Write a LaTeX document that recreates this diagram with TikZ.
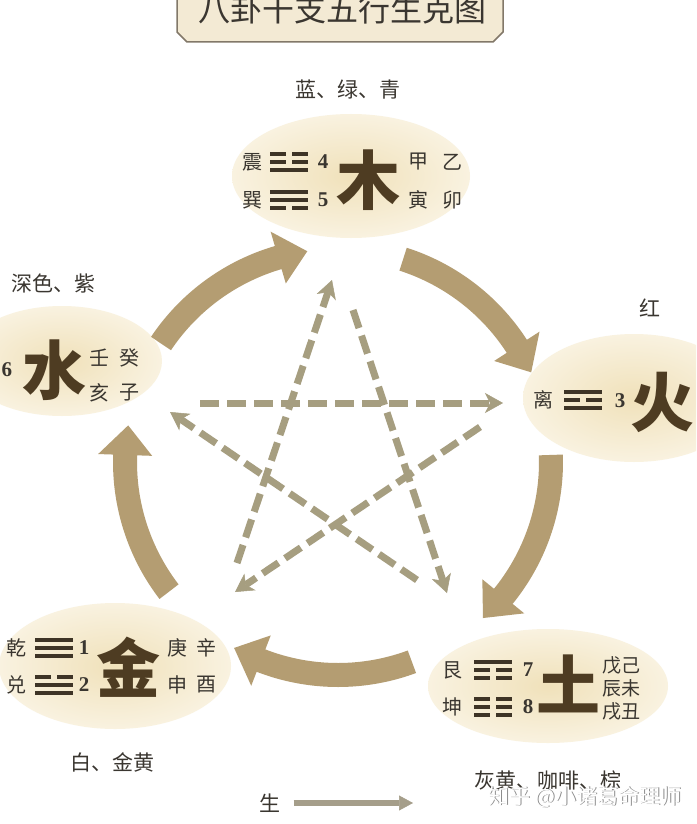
\documentclass[tikz,border=0pt]{standalone}
\usepackage{fontspec}
\setmainfont{Liberation Serif}
\newfontfamily\cjk{Noto Sans CJK SC}
\usetikzlibrary{arrows.meta,shapes.geometric}
\definecolor{arrowc}{RGB}{180,157,114}
\definecolor{starc}{RGB}{166,158,128}
\definecolor{ellin}{RGB}{240,225,186}
\definecolor{ellout}{RGB}{249,242,224}
\definecolor{txt}{RGB}{58,54,48}
\definecolor{bigc}{RGB}{78,60,34}
\definecolor{trigc}{RGB}{62,52,38}
\definecolor{titlefill}{RGB}{243,234,212}
\definecolor{titledraw}{RGB}{130,120,105}
\definecolor{legc}{RGB}{165,158,138}
\newcommand{\trig}[3]{%
  \foreach \bb [count=\ii] in {#3} {%
    \pgfmathsetmacro{\yy}{#2+(\ii-2)*8}%
    \ifnum\bb=1
      \fill[trigc] (#1-19,\yy-2.3) rectangle (#1+19,\yy+2.3);
    \else
      \fill[trigc] (#1-19,\yy-2.3) rectangle (#1-3,\yy+2.3);
      \fill[trigc] (#1+3,\yy-2.3) rectangle (#1+19,\yy+2.3);
    \fi
  }%
}
\begin{document}
\begin{tikzpicture}[x=1pt,y=-1pt,
  ell/.style={ellipse, shade, inner color=ellin, outer color=ellout, inner sep=0pt},
  sm/.style={font=\cjk\fontsize{20}{20}\selectfont, text=txt, inner sep=0pt},
  smt/.style={font=\cjk\fontsize{19}{19}\selectfont, text=txt, inner sep=0pt},
  num/.style={font=\fontsize{21}{21}\selectfont\bfseries, text=txt, inner sep=0pt},
  big/.style={font=\cjk\bfseries\fontsize{64}{64}\selectfont, text=bigc, inner sep=0pt},
  colorlbl/.style={font=\cjk\fontsize{21}{21}\selectfont, text=txt, inner sep=0pt},
  kearrow/.style={starc, line width=7pt, dash pattern=on 19pt off 8pt,
    -{Stealth[length=18pt,width=20pt,inset=5pt,line width=0.5pt]}},
  legarrow/.style={legc, line width=6pt, -{Triangle[length=14pt,width=15pt,line width=0.5pt]}},
]
\useasboundingbox (0,0) rectangle (696,824);
\clip (0,0) rectangle (696,824);
\fill[white] (0,0) rectangle (696,824);

% title
\draw[titledraw, fill=titlefill, line width=1.5pt]
  (177,-10) -- (177,32) -- (187,42) -- (493,42) -- (503,32) -- (503,-10) -- cycle;
\node[font=\cjk\fontsize{32}{32}\selectfont, text=txt, inner sep=0pt] (title) at (342,9) {八卦干支五行生克图};

% ellipses
\node[ell, minimum width=238pt, minimum height=124pt] (mu) at (351,176) {};
\node[ell, minimum width=200pt, minimum height=110pt] (shui) at (62,361) {};
\node[ell, minimum width=222pt, minimum height=128pt] (huo) at (634,398) {};
\node[ell, minimum width=232pt, minimum height=126pt] (jin) at (115,666) {};
\node[ell, minimum width=240pt, minimum height=114pt] (tu) at (548,686) {};

% sheng arrows (circular)
\foreach \a/\b in {213.8/261.7, 287.8/335.1, -1.9/47.1, 69.7/119.2, 142.5/189.9} {
  \pgfmathsetmacro{\hh}{\b-8}
  \fill[arrowc] plot[domain=\a:\hh, samples=40, variable=\t] ({338+225*cos(\t)},{462+225*sin(\t)})
    -- ({338+240*cos(\hh)},{462+240*sin(\hh)})
    -- ({338+213*cos(\b)},{462+213*sin(\b)})
    -- ({338+186*cos(\hh)},{462+186*sin(\hh)})
    -- ({338+201*cos(\hh)},{462+201*sin(\hh)})
    -- plot[domain=\hh:\a, samples=40, variable=\t] ({338+201*cos(\t)},{462+201*sin(\t)})
    -- cycle;
}

% ke star
\coordinate (sA) at (200,403); \coordinate (eA) at (503,403);
\coordinate (sB) at (480,427); \coordinate (eB) at (235,592);
\coordinate (sC) at (353,310); \coordinate (eC) at (447,593);
\coordinate (sD) at (417,580); \coordinate (eD) at (170,412);
\coordinate (sE) at (237,563); \coordinate (eE) at (332,280);
\draw[kearrow] (sA) -- (eA);
\draw[kearrow] (sB) -- (eB);
\draw[kearrow] (sC) -- (eC);
\draw[kearrow] (sD) -- (eD);
\draw[kearrow] (sE) -- (eE);

% wood
\node[sm] (zhen) at (252,162) {震};
\node[sm] (xun) at (252,200) {巽};
\trig{289}{162}{0,0,1}
\trig{289}{200}{1,1,0}
\node[num] (n4) at (323,162) {4};
\node[num] (n5) at (323,200) {5};
\node[big] (muc) at (368,180) {木};
\node[sm] (jia) at (418,162) {甲};
\node[sm] (yi) at (452,162) {乙};
\node[sm] (yin) at (418,200) {寅};
\node[sm] (mao) at (452,200) {卯};

% water
\node[num] (n6) at (7,370) {6};
\node[big] (shuic) at (55,370) {水};
\node[sm] (ren) at (99,358) {壬};
\node[sm] (gui) at (129,358) {癸};
\node[sm] (hai) at (99,393) {亥};
\node[sm] (zi) at (129,393) {子};

% fire
\node[sm] (li) at (543,400) {离};
\trig{583}{400}{1,0,1}
\node[num] (n3) at (620,401) {3};
\node[big] (huoc) at (662,402) {火};

% metal
\node[sm] (qian) at (16,648) {乾};
\node[sm] (dui) at (16,685) {兑};
\trig{54}{648}{1,1,1}
\trig{54}{685}{0,1,1}
\node[num] (n1) at (84,648) {1};
\node[num] (n2) at (84,685) {2};
\node[big] (jinc) at (128,667) {金};
\node[sm] (geng) at (177,648) {庚};
\node[sm] (xin) at (206,648) {辛};
\node[sm] (shen) at (177,685) {申};
\node[sm] (you) at (206,685) {酉};

% earth
\node[sm] (gen) at (452,670) {艮};
\node[sm] (kun) at (452,707) {坤};
\trig{493}{670}{1,0,0}
\trig{493}{707}{0,0,0}
\node[num] (n7) at (528,670) {7};
\node[num] (n8) at (528,707) {8};
\node[big] (tuc) at (568,684) {土};
\node[smt] (wuji) at (621,665) {戊己};
\node[smt] (chenwei) at (621,688) {辰未};
\node[smt] (xuchou) at (621,711) {戌丑};

% colour labels
\node[colorlbl] (c1) at (348,90) {蓝、绿、青};
\node[colorlbl] (c2) at (54,283) {深色、紫};
\node[colorlbl] (c3) at (650,308) {红};
\node[colorlbl] (c4) at (112,762) {白、金黄};
\node[colorlbl] (c5) at (548,781) {灰黄、咖啡、棕};

% legend
\node[colorlbl] (sheng) at (270,803) {生};
\coordinate (legend end) at (413,803);
\draw[legarrow] ([xshift=13pt]sheng.east) -- (legend end);

% watermark
\node[font=\cjk\fontsize{21}{21}\selectfont, text=black!45, inner sep=0pt] (wm shadow) at (585.8,797.8) {知乎 @小诸葛命理师};
\node[font=\cjk\fontsize{21}{21}\selectfont, text=white, inner sep=0pt] (wm) at (585,797) {知乎 @小诸葛命理师};
\end{tikzpicture}
\end{document}
